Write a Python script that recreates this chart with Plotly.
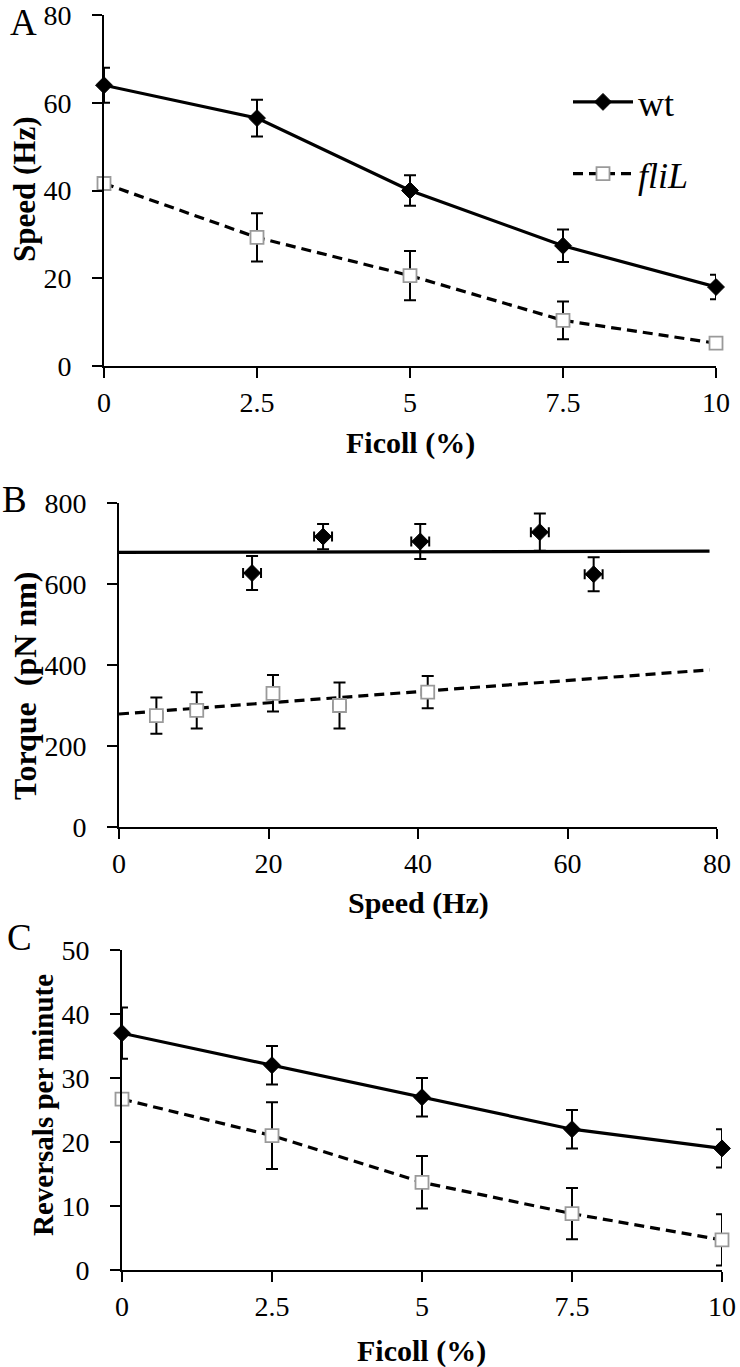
import plotly.graph_objects as go

# ---------------- data ----------------
ficoll = [0, 2.5, 5, 7.5, 10]
ficoll_ticks = ["0", "2.5", "5", "7.5", "10"]

# Panel A: speed (Hz)
speed_wt = [64, 56.5, 40, 27.4, 18]
speed_wt_err = [4, 4.2, 3.5, 3.7, 2.8]
speed_fliL = [41.6, 29.3, 20.6, 10.4, 5.2]
speed_fliL_err = [1.5, 5.5, 5.6, 4.3, 0.8]

# Panel B: torque vs speed
tq_wt_speed = [17.8, 27.3, 40.3, 56.3, 63.5]
tq_wt_speed_err = [1.2, 1.2, 1.2, 1.2, 1.2]
tq_wt = [627, 717, 705, 728, 624]
tq_wt_err = [42, 31, 43, 46, 42]
tq_fliL_speed = [5, 10.4, 20.6, 29.5, 41.3]
tq_fliL_speed_err = [0.8, 0.8, 0.8, 0.8, 0.8]
tq_fliL = [275, 288, 330, 300, 333]
tq_fliL_err = [45, 45, 45, 57, 40]
trend_x = [0, 79]
trend_wt = [678, 681]
trend_fliL = [279, 388]

# Panel C: reversals per minute
rev_wt = [37, 32, 27, 22, 19]
rev_wt_err = [4, 3, 3, 3, 3]
rev_fliL = [26.7, 21, 13.7, 8.8, 4.7]
rev_fliL_err = [0.8, 5.2, 4.1, 4, 4]

# ---------------- style ----------------
W, H = 740, 1367
SERIF = "Liberation Serif"
BLACK = "#000000"
GRAY = "#9a9a9a"

wt_marker = dict(symbol="diamond", size=13, color=BLACK, line=dict(color=BLACK, width=1))
fl_marker = dict(symbol="square", size=13, color="white", line=dict(color=GRAY, width=1.8))
wt_line = dict(color=BLACK, width=3.2)
fl_line = dict(color=BLACK, width=3.2, dash="10px,6px")


def eb(arr, w=6):
    return dict(type="data", array=arr, visible=True, color=BLACK, thickness=2, width=w)


fig = go.Figure()

# Panel A
fig.add_trace(go.Scatter(x=ficoll, y=speed_wt, mode="lines+markers", name="wt",
                         line=wt_line, marker=wt_marker, error_y=eb(speed_wt_err),
                         xaxis="x", yaxis="y", cliponaxis=False,
                         legendgroup="wt", showlegend=True))
fig.add_trace(go.Scatter(x=ficoll, y=speed_fliL, mode="lines+markers", name="<i>fliL</i>",
                         line=fl_line, marker=fl_marker, error_y=eb(speed_fliL_err),
                         xaxis="x", yaxis="y", cliponaxis=False,
                         legendgroup="fl", showlegend=True))

# Panel B
fig.add_trace(go.Scatter(x=trend_x, y=trend_wt, mode="lines", line=dict(color=BLACK, width=3.2),
                         xaxis="x2", yaxis="y2", showlegend=False, cliponaxis=False))
fig.add_trace(go.Scatter(x=trend_x, y=trend_fliL, mode="lines", line=fl_line,
                         xaxis="x2", yaxis="y2", showlegend=False, cliponaxis=False))
fig.add_trace(go.Scatter(x=tq_wt_speed, y=tq_wt, mode="markers", marker=wt_marker,
                         error_y=eb(tq_wt_err), error_x=eb(tq_wt_speed_err, 5),
                         xaxis="x2", yaxis="y2", showlegend=False, cliponaxis=False))
fig.add_trace(go.Scatter(x=tq_fliL_speed, y=tq_fliL, mode="markers", marker=fl_marker,
                         error_y=eb(tq_fliL_err), error_x=eb(tq_fliL_speed_err, 4),
                         xaxis="x2", yaxis="y2", showlegend=False, cliponaxis=False))

# Panel C
fig.add_trace(go.Scatter(x=ficoll, y=rev_wt, mode="lines+markers", line=wt_line, marker=wt_marker,
                         error_y=eb(rev_wt_err), xaxis="x3", yaxis="y3",
                         showlegend=False, cliponaxis=False))
fig.add_trace(go.Scatter(x=ficoll, y=rev_fliL, mode="lines+markers", line=fl_line, marker=fl_marker,
                         error_y=eb(rev_fliL_err), xaxis="x3", yaxis="y3",
                         showlegend=False, cliponaxis=False))


def px_x(p):
    return p / W


def px_y(p):
    return 1 - p / H


tickfont = dict(family=SERIF, size=28, color=BLACK)

common_axis = dict(showline=True, linecolor=BLACK, linewidth=2, ticks="outside", ticklen=10,
                   tickwidth=2, tickcolor=BLACK, showgrid=False, zeroline=False,
                   tickfont=tickfont, automargin=False, fixedrange=True,
                   ticklabeloverflow="allow")
y_extra = dict(ticklabelstandoff=15)

fig.update_layout(
    width=W, height=H,
    margin=dict(l=0, r=0, t=0, b=0),
    paper_bgcolor="white", plot_bgcolor="white",
    font=dict(family=SERIF, color=BLACK),
    showlegend=True,
    legend=dict(x=px_x(568), y=px_y(72), xanchor="left", yanchor="top",
                font=dict(family=SERIF, size=36, color=BLACK),
                bgcolor="rgba(0,0,0,0)", traceorder="grouped", tracegroupgap=22,
                itemwidth=60),
    xaxis=dict(domain=[px_x(104), px_x(716)], range=[0, 10], anchor="y",
               tickvals=ficoll, ticktext=ficoll_ticks, **common_axis),
    yaxis=dict(domain=[px_y(366), px_y(15)], range=[0, 80], anchor="x",
               tickvals=[0, 20, 40, 60, 80], **common_axis, **y_extra),
    xaxis2=dict(domain=[px_x(119), px_x(717)], range=[0, 80], anchor="y2",
                tickvals=[0, 20, 40, 60, 80], **common_axis),
    yaxis2=dict(domain=[px_y(827), px_y(503)], range=[0, 800], anchor="x2",
                tickvals=[0, 200, 400, 600, 800], **common_axis, **y_extra),
    xaxis3=dict(domain=[px_x(122), px_x(722)], range=[0, 10], anchor="y3",
                tickvals=ficoll, ticktext=ficoll_ticks, **common_axis),
    yaxis3=dict(domain=[px_y(1270), px_y(950)], range=[0, 50], anchor="x3",
                tickvals=[0, 10, 20, 30, 40, 50], **common_axis, **y_extra),
)

# axis titles
xt_font = dict(family=SERIF, size=30, color=BLACK, weight="bold")
x_titles = [("Ficoll (%)", 410, 443), ("Speed (Hz)", 418, 903), ("Ficoll (%)", 422, 1351)]
y_titles = [("Speed (Hz)", 25, 189, 31), ("Torque  (pN nm)", 25, 686, 32),
            ("Reversals per minute", 43, 1105, 29)]
for txt, xp, yp in x_titles:
    fig.add_annotation(text=txt, x=px_x(xp), y=px_y(yp), xref="paper", yref="paper",
                       xanchor="center", yanchor="middle", showarrow=False, font=xt_font)
for txt, xp, yp, fs in y_titles:
    fig.add_annotation(text=txt, x=px_x(xp), y=px_y(yp), xref="paper", yref="paper",
                       xanchor="center", yanchor="middle", showarrow=False,
                       font=dict(family=SERIF, size=fs, color=BLACK, weight="bold"),
                       textangle=-90)

letter_font = dict(family=SERIF, size=37, color=BLACK)
for letter, xp, ypx in [("A", 8, 0), ("B", 0, 477), ("C", 5, 915)]:
    fig.add_annotation(text=letter, x=px_x(xp), y=px_y(ypx), xref="paper", yref="paper",
                       xanchor="left", yanchor="top", showarrow=False, font=letter_font)

fig.write_html("out.html",
               config={"displayModeBar": False},
               post_script="document.body.style.margin='0px';document.body.style.overflow='hidden';")
